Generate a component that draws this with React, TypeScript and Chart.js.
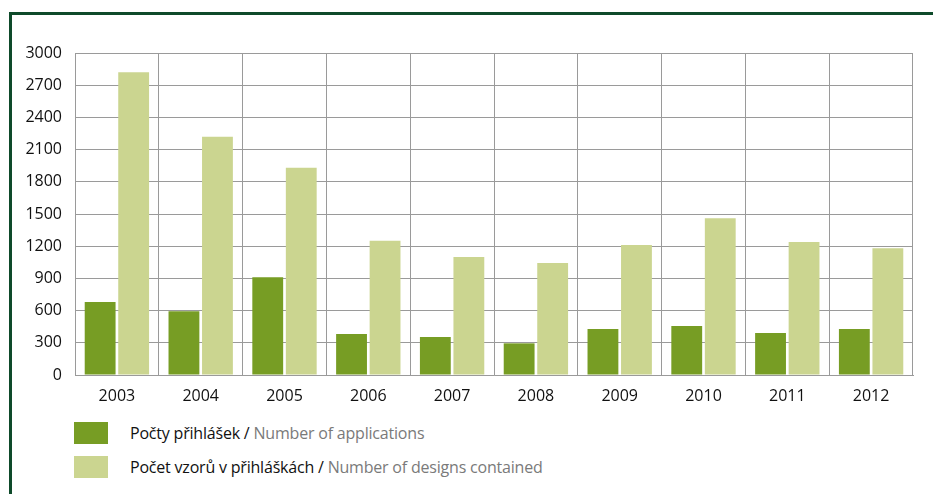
import React, { useEffect, useRef } from "react";
import { Chart, registerables } from "chart.js";

Chart.register(...registerables);

const years = ["2003", "2004", "2005", "2006", "2007", "2008", "2009", "2010", "2011", "2012"];
const applications = [680, 595, 910, 382, 354, 295, 429, 456, 391, 429];
const designs = [2820, 2220, 1930, 1250, 1100, 1043, 1211, 1460, 1240, 1180];
const yTicks = [0, 300, 600, 900, 1200, 1500, 1800, 2100, 2400, 2700, 3000];

const DARK = "#779d24";
const LIGHT = "#cbd590";
const FONT = "'Open Sans', sans-serif";

export default function App() {
  const ref = useRef<HTMLCanvasElement | null>(null);
  useEffect(() => {
    if (!ref.current) return;
    const chart = new Chart(ref.current, {
      type: "bar",
      data: {
        labels: years,
        datasets: [
          { label: "Počty přihlášek / Number of applications", data: applications, backgroundColor: DARK },
          { label: "Počet vzorů v přihláškách / Number of designs contained", data: designs, backgroundColor: LIGHT },
        ],
      },
      options: {
        responsive: false,
        animation: false,
        layout: { padding: { top: 53, right: 20, left: 0, bottom: 0 } },
        plugins: { legend: { display: false }, tooltip: { enabled: false } },
        datasets: { bar: { categoryPercentage: 0.8, barPercentage: 0.92 } },
        scales: {
          x: {
            offset: true,
            grid: { offset: true, color: "#9a9a9a", lineWidth: 1, drawTicks: false },
            border: { color: "#9a9a9a" },
            ticks: { color: "#111", font: { family: FONT, size: 16 }, padding: 12 },
            afterFit: (s: any) => { s.height = 45; },
          },
          y: {
            min: 0,
            max: 3000,
            afterBuildTicks: (s: any) => { s.ticks = yTicks.map((v) => ({ value: v })); },
            grid: { color: "#9a9a9a", lineWidth: 1, drawTicks: false },
            border: { color: "#9a9a9a" },
            ticks: {
              color: "#111",
              font: { family: FONT, size: 16 },
              padding: 13,
              callback: (v: any) => String(v),
            },
            afterFit: (s: any) => { s.width = 75; },
          },
        },
      },
    });
    return () => chart.destroy();
  }, []);

  const legendText: React.CSSProperties = {
    position: "absolute",
    left: 130,
    fontFamily: FONT,
    fontSize: 16,
    lineHeight: "20px",
    letterSpacing: "-0.2px",
    color: "#111",
    whiteSpace: "nowrap",
  };
  const gray: React.CSSProperties = { color: "#7a7a7a" };

  return (
    <div style={{ position: "absolute", left: 0, top: 0, width: 933, height: 494, overflow: "hidden", background: "#fff" }}>
      <div
        style={{
          position: "absolute",
          left: 9,
          top: 12,
          width: 1000,
          height: 600,
          borderTop: "3px solid #0e4a2a",
          borderLeft: "3px solid #0e4a2a",
        }}
      />
      <canvas ref={ref} width={933} height={420} style={{ position: "absolute", left: 0, top: 0 }} />
      <div style={{ position: "absolute", left: 74, top: 422, width: 34, height: 22, background: DARK }} />
      <div style={{ position: "absolute", left: 74, top: 456, width: 34, height: 22, background: LIGHT }} />
      <div style={{ ...legendText, top: 423 }}>
        Počty přihlášek / <span style={gray}>Number of applications</span>
      </div>
      <div style={{ ...legendText, top: 457 }}>
        Počet vzorů v přihláškách / <span style={gray}>Number of designs contained</span>
      </div>
    </div>
  );
}
